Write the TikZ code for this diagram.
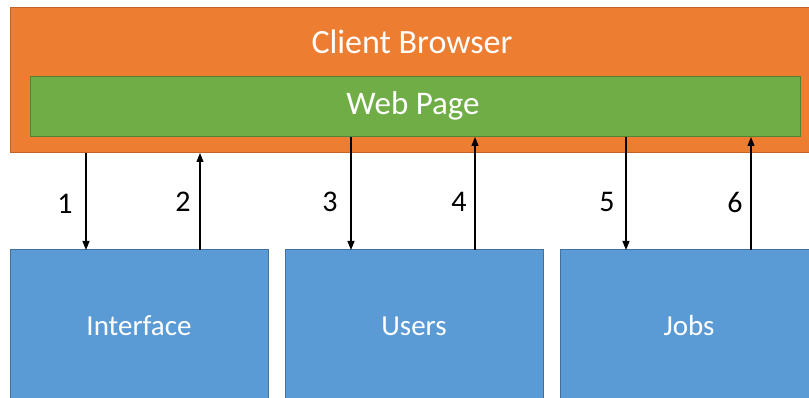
\documentclass[tikz,border=0pt]{standalone}
\usepackage{fontspec}
\setmainfont{Carlito}
\usetikzlibrary{arrows.meta}
\definecolor{browserfill}{HTML}{ED7D31}
\definecolor{browserline}{HTML}{C0642A}
\definecolor{pagefill}{HTML}{70AD47}
\definecolor{pageline}{HTML}{548235}
\definecolor{svcfill}{HTML}{5B9BD5}
\definecolor{svcline}{HTML}{41719C}
\tikzset{
  panel/.style={draw, line width=1pt, inner sep=0pt, outer sep=0pt, anchor=north west},
  browserbox/.style={panel, fill=browserfill, draw=browserline, minimum width=806pt, minimum height=145pt},
  pagebox/.style={panel, fill=pagefill, draw=pageline, minimum width=770pt, minimum height=60pt},
  svcbox/.style={panel, fill=svcfill, draw=svcline, minimum width=258pt, minimum height=152pt,
    text=white, font=\fontsize{29}{34}\selectfont},
  heading/.style={text=white, inner sep=0pt},
  flow/.style={line width=1.2pt, -{Triangle[length=9pt,width=7pt]}},
  num/.style={inner sep=0pt, font=\fontsize{30}{34}\selectfont}
}
\begin{document}
\begin{tikzpicture}[x=1pt,y=-1pt]
  \useasboundingbox (0,0) rectangle (809,398);
  \clip (0,0) rectangle (809,398);
  % browser frame and page
  \node[browserbox] (browser) at (10,8) {};
  \node[pagebox] (webpage) at (30,77) {};
  \node[heading, font=\fontsize{34}{40}\selectfont] (browsertitle) at (412,42) {Client Browser};
  \node[heading, font=\fontsize{33}{40}\selectfont] (pagetitle) at (413,106) {Web Page};
  % service boxes
  \node[svcbox] (iface) at (10,250) {Interface};
  \node[svcbox] (users) at (285,250) {Users};
  \node[svcbox] (jobs) at (560,250) {Jobs};
  % connector columns
  \coordinate (c1) at (86,0);
  \coordinate (c2) at (200,0);
  \coordinate (c3) at (351,0);
  \coordinate (c4) at (475,0);
  \coordinate (c5) at (626,0);
  \coordinate (c6) at (751,0);
  \draw[flow] (c1 |- browser.south) -- (c1 |- iface.north);
  \draw[flow] (c2 |- iface.north) -- (c2 |- browser.south);
  \draw[flow] (c3 |- webpage.south) -- (c3 |- users.north);
  \draw[flow] (c4 |- users.north) -- (c4 |- webpage.south);
  \draw[flow] (c5 |- webpage.south) -- (c5 |- jobs.north);
  \draw[flow] (c6 |- jobs.north) -- (c6 |- webpage.south);
  % step numbers
  \node[num] (n1) at (65,204) {1};
  \node[num] (n2) at (183,202) {2};
  \node[num] (n3) at (330,202) {3};
  \node[num] (n4) at (459,202) {4};
  \node[num] (n5) at (607,202) {5};
  \node[num] (n6) at (735,202) {6};
\end{tikzpicture}
\end{document}
